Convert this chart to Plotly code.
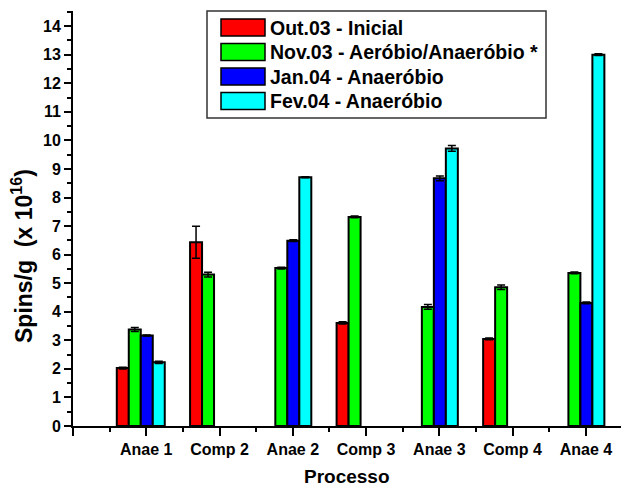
import plotly.graph_objects as go

# ---- data ----
categories = ["Anae 1", "Comp 2", "Anae 2", "Comp 3", "Anae 3", "Comp 4", "Anae 4"]
series_names = ["Out.03 - Inicial", "Nov.03 - Aeróbio/Anaeróbio *",
                "Jan.04 - Anaeróbio", "Fev.04 - Anaeróbio"]
out03 = [2.03, 6.43, None, 3.61, None, 3.05, None]
out03_err = [0.03, 0.56, 0, 0.04, 0, 0.03, 0]
nov03 = [3.38, 5.30, 5.53, 7.32, 4.17, 4.86, 5.36]
nov03_err = [0.07, 0.08, 0.03, 0.03, 0.08, 0.08, 0.03]
jan04 = [3.17, None, 6.49, None, 8.67, None, 4.31]
jan04_err = [0.02, 0, 0.03, 0, 0.08, 0, 0.03]
fev04 = [2.23, None, 8.71, None, 9.72, None, 13.0]
fev04_err = [0.04, 0, 0.02, 0, 0.10, 0, 0.03]

# ---- style ----
colors = ["#FF0000", "#00FF00", "#0000FF", "#00FFFF"]
FONT = "Arial, Liberation Sans, sans-serif"
bar_w = 0.1637
group_shift = -0.075
values = [out03, nov03, jan04, fev04]
errors = [out03_err, nov03_err, jan04_err, fev04_err]
xpos = list(range(len(categories)))

fig = go.Figure()
for k, (name, vals, errs, col) in enumerate(zip(series_names, values, errors, colors)):
    fig.add_trace(go.Bar(
        x=xpos, y=vals, name=name,
        width=bar_w, offset=group_shift - 2 * bar_w + k * bar_w,
        marker=dict(color=col, line=dict(color="black", width=2)),
        error_y=dict(type="data", array=errs, color="black", thickness=1.5, width=4),
        showlegend=False,
    ))

# ---- custom legend (box + swatches + text) ----
L, T, PW, PH = 73, 11, 548, 415
def px(xp):
    return (xp - L) / PW
def py(yp):
    return (T + PH - yp) / PH

shapes = [dict(type="rect", xref="paper", yref="paper",
               x0=px(207), x1=px(546), y0=py(118), y1=py(11),
               line=dict(color="#333333", width=1.5), fillcolor="white", layer="above")]
annotations = []
row0, row_step, sw_h = 27.5, 24.5, 17
for k, (name, col) in enumerate(zip(series_names, colors)):
    cy = row0 + k * row_step
    shapes.append(dict(type="rect", xref="paper", yref="paper",
                       x0=px(221), x1=px(265), y0=py(cy + sw_h / 2), y1=py(cy - sw_h / 2),
                       line=dict(color="black", width=1.5), fillcolor=col, layer="above"))
    annotations.append(dict(xref="paper", yref="paper", x=px(268), y=py(cy),
                            xanchor="left", yanchor="middle", text=name, showarrow=False,
                            font=dict(family=FONT, size=19.5, color="black", weight="bold")))

# axis titles
annotations.append(dict(xref="paper", yref="paper", x=px(347), y=py(476),
                        xanchor="center", yanchor="middle", text="Processo", showarrow=False,
                        font=dict(family=FONT, size=19, color="black", weight="bold")))
annotations.append(dict(xref="paper", yref="paper", x=px(22), y=py(256),
                        xanchor="center", yanchor="middle", textangle=-90,
                        text="Spins/g  (x 10<sup>16</sup>)", showarrow=False,
                        font=dict(family=FONT, size=23, color="black", weight="bold")))

fig.update_layout(
    width=621, height=486,
    margin=dict(l=L, r=0, t=T, b=486 - T - PH),
    paper_bgcolor="white", plot_bgcolor="white",
    barmode="overlay",
    shapes=shapes, annotations=annotations,
    font=dict(family=FONT, color="black"),
)
fig.update_xaxes(
    type="linear", range=[-1, -1 + PW / 73.27],
    tickmode="array", tickvals=[-1] + xpos, ticktext=[" "] + categories,
    ticks="outside", ticklen=8, tickwidth=2, tickcolor="black",
    showline=True, linewidth=2, linecolor="black",
    showgrid=False, zeroline=False,
    tickfont=dict(family=FONT, size=16, color="black", weight="bold"),
    minor=dict(tickmode="linear", tick0=-0.5, dtick=1, ticks="outside",
               ticklen=4, tickwidth=2, tickcolor="black", showgrid=False),
)
fig.update_yaxes(
    range=[0, 14.53], tickmode="linear", tick0=0, dtick=1,
    ticks="outside", ticklen=7, tickwidth=2, tickcolor="black",
    showline=True, linewidth=2, linecolor="black",
    showgrid=False, zeroline=False,
    tickfont=dict(family=FONT, size=16, color="black", weight="bold"),
    minor=dict(tickmode="linear", tick0=0, dtick=0.5, ticks="outside",
               ticklen=4, tickwidth=2, tickcolor="black", showgrid=False),
)

fig.write_html("out.html", config={"displayModeBar": False},
               post_script="document.body.style.margin='0';document.body.style.overflow='hidden';")
